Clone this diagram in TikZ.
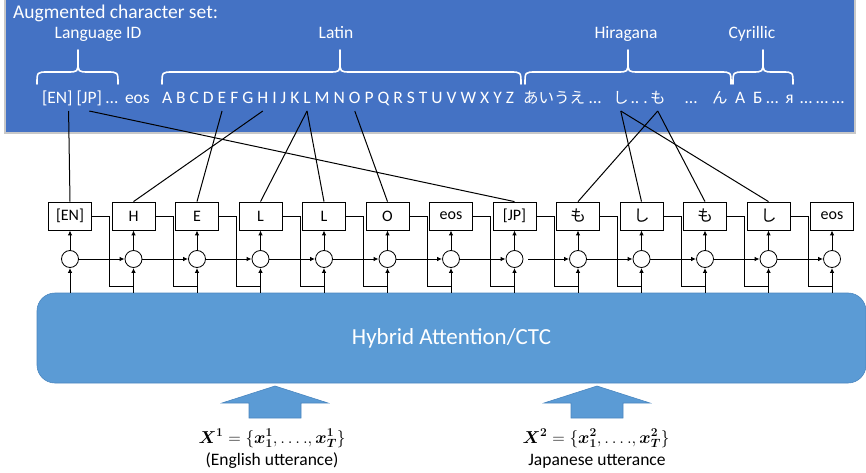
\documentclass[tikz,border=0pt]{standalone}
\usepackage{fontspec}
\setmainfont{Carlito}
\newfontfamily\jpfont{Noto Sans CJK JP}
\usepackage{bm}
\usepackage{tikz}
\usetikzlibrary{arrows.meta,positioning,calc}

\definecolor{panelblue}{HTML}{4472C4}
\definecolor{paneledge}{HTML}{C8C8C8}
\definecolor{hybblue}{HTML}{5B9BD5}
\definecolor{hybedge}{HTML}{4A86BF}

% curly brace over a group of characters: left x, tip x, right x
\newcommand{\charbrace}[3]{%
  \draw[brace] (#1,84) .. controls (#1,72) .. (#1+11,72) -- (#2-11,72)
    .. controls (#2,72) .. (#2,61) -- (#2,50) -- (#2,61)
    .. controls (#2,72) .. (#2+11,72) -- (#3-11,72) .. controls (#3,72) .. (#3,84);}

\tikzset{
  bigup/.pic={
    \filldraw[fill=hybblue, draw=hybedge, line width=0.6pt]
      (0,0) -- (53,17) -- (26,17) -- (26,32) -- (-26,32) -- (-26,17) -- (-53,17) -- cycle;
  }
}

\begin{document}
\begin{tikzpicture}[
    x=1pt, y=-1pt,
    chr/.style={inner sep=0pt, outer sep=0pt, text=white, anchor=base west,
      text depth=7pt, font=\fontsize{17.5}{21}\selectfont},
    lbl/.style={inner sep=0pt, text=white, anchor=base, font=\fontsize{17.5}{21}\selectfont},
    brace/.style={white, line width=1.6pt, line join=round, line cap=round},
    letterbox/.style={rectangle, draw, fill=white, line width=0.8pt, minimum width=43pt,
      minimum height=28pt, inner sep=0pt, font=\fontsize{16}{18}\selectfont},
    sumnode/.style={circle, draw, fill=white, line width=0.8pt, minimum size=17pt, inner sep=0pt},
    hyb/.style={rectangle, rounded corners=18pt, fill=hybblue, draw=hybedge, line width=0.6pt,
      minimum width=829pt, minimum height=90pt, text=white, font=\fontsize{23}{27}\selectfont},
    arrow/.style={-{Latex[length=5pt,width=4.5pt]}, line width=1pt},
    link/.style={line width=1pt},
    utt/.style={inner sep=0pt, anchor=base, font=\fontsize{17.5}{20}\selectfont}
]
\useasboundingbox (0,0) rectangle (866,473);

% Character set panel
\fill[panelblue, draw=paneledge, line width=1.5pt] (5,-3) rectangle (855,133);
\node[lbl, anchor=base west, font=\fontsize{19.5}{23}\selectfont] (title) at (13,19) {Augmented character set:};
\node[lbl] (langid) at (98,39) {Language ID};
\node[lbl] (latin) at (336,39) {Latin};
\node[lbl] (hira) at (626,39) {Hiragana};
\node[lbl] (cyril) at (752,39) {Cyrillic};

\charbrace{37}{78}{118}
\charbrace{162}{340}{521}
\charbrace{525}{628}{731}
\charbrace{733}{763}{793}

% Characters
\node[chr] (en) at (42,104) {[EN]};
\node[chr, base right=4pt of en] (jp) {[JP]};
\node[chr, base right=4pt of jp] (dots1) {…};
\node[chr, base right=7pt of dots1] (eos) {eos};
\node[chr] (A) at (162,104) {A};
\foreach \c [remember=\c as \p (initially A)] in {B,...,Z}
  \node[chr, base right=4pt of \p] (\c) {\c};
\node[chr, font=\jpfont\fontsize{15.5}{21}\selectfont] (kana) at (523,104) {あいうえ};
\node[chr, base right=4pt of kana] (dots2) {…};
\node[chr, font=\jpfont\fontsize{15.5}{21}\selectfont] (shi) at (613,104) {し};
\node[chr, base right=2pt of shi] (dots3) {..\ .};
\node[chr, font=\jpfont\fontsize{15.5}{21}\selectfont] (mo) at (650,104) {も};
\node[chr] (dots4) at (685,104) {…};
\node[chr, font=\jpfont\fontsize{15.5}{21}\selectfont] (nn) at (712,104) {ん};
\node[chr] (cyr) at (735,104) {А\ \ Б … \,я};
\node[chr] (tail) at (800,104) {… … …};

% Decoder steps
\foreach \t [count=\i] in {{[EN]},H,E,L,L,O,eos,{[JP]},{\jpfont も},{\jpfont し},{\jpfont も},{\jpfont し},eos} {
  \node[letterbox] (box\i) at ({70+63.5*(\i-1)},216) {\t};
  \node[sumnode] (sum\i) at ({70+63.5*(\i-1)},259) {};
}

\node[hyb] (hyb) at (451.5,338) {Hybrid Attention/CTC};

% Arrows
\foreach \i in {1,...,13} {
  \draw[arrow] (sum\i) -- (box\i);
  \draw[arrow] (sum\i |- hyb.north) -- (sum\i);
}
\foreach \i in {2,...,8,10,11,12,13} {
  \pgfmathtruncatemacro\p{\i-1}
  \draw[arrow] (sum\p) -- (sum\i);
}
\draw[arrow, shorten <=5pt] (sum8) -- (sum9);
\foreach \i in {2,...,13} {
  \pgfmathtruncatemacro\p{\i-1}
  \draw[link] (box\p.east) -- ++(18,0) |- ($(sum\i |- hyb.north)+(0,-6)$);
}

% Character links
\draw[link] ([xshift=-4pt]en.south east) -- (box1.north);
\draw[link] (jp.south) -- (box8.north);
\draw[link] (H.south) -- (box2.north);
\draw[link] (E.south) -- (box3.north);
\draw[link] (L.south) -- (box4.north);
\draw[link] (L.south) -- (box5.north);
\draw[link] (O.south) -- (box6.north);
\draw[link] (mo.south) -- (box9.north);
\draw[link] (mo.south) -- (box11.north);
\draw[link] (shi.south) -- (box10.north);
\draw[link] (shi.south) -- (box12.north);

% Inputs
\pic at (275,386) {bigup};
\pic at (597,386) {bigup};
\node[utt] (xen) at (272,443) {$\bm{X^1} = \{\bm{x^1_1}, \ldots., \bm{x^1_T}\}$};
\node[utt] (eng) at (272,465) {(English utterance)};
\node[utt] (xjp) at (596,443) {$\bm{X^2} = \{\bm{x^2_1}, \ldots., \bm{x^2_T}\}$};
\node[utt] (jap) at (597,465) {Japanese utterance};
\end{tikzpicture}
\end{document}
